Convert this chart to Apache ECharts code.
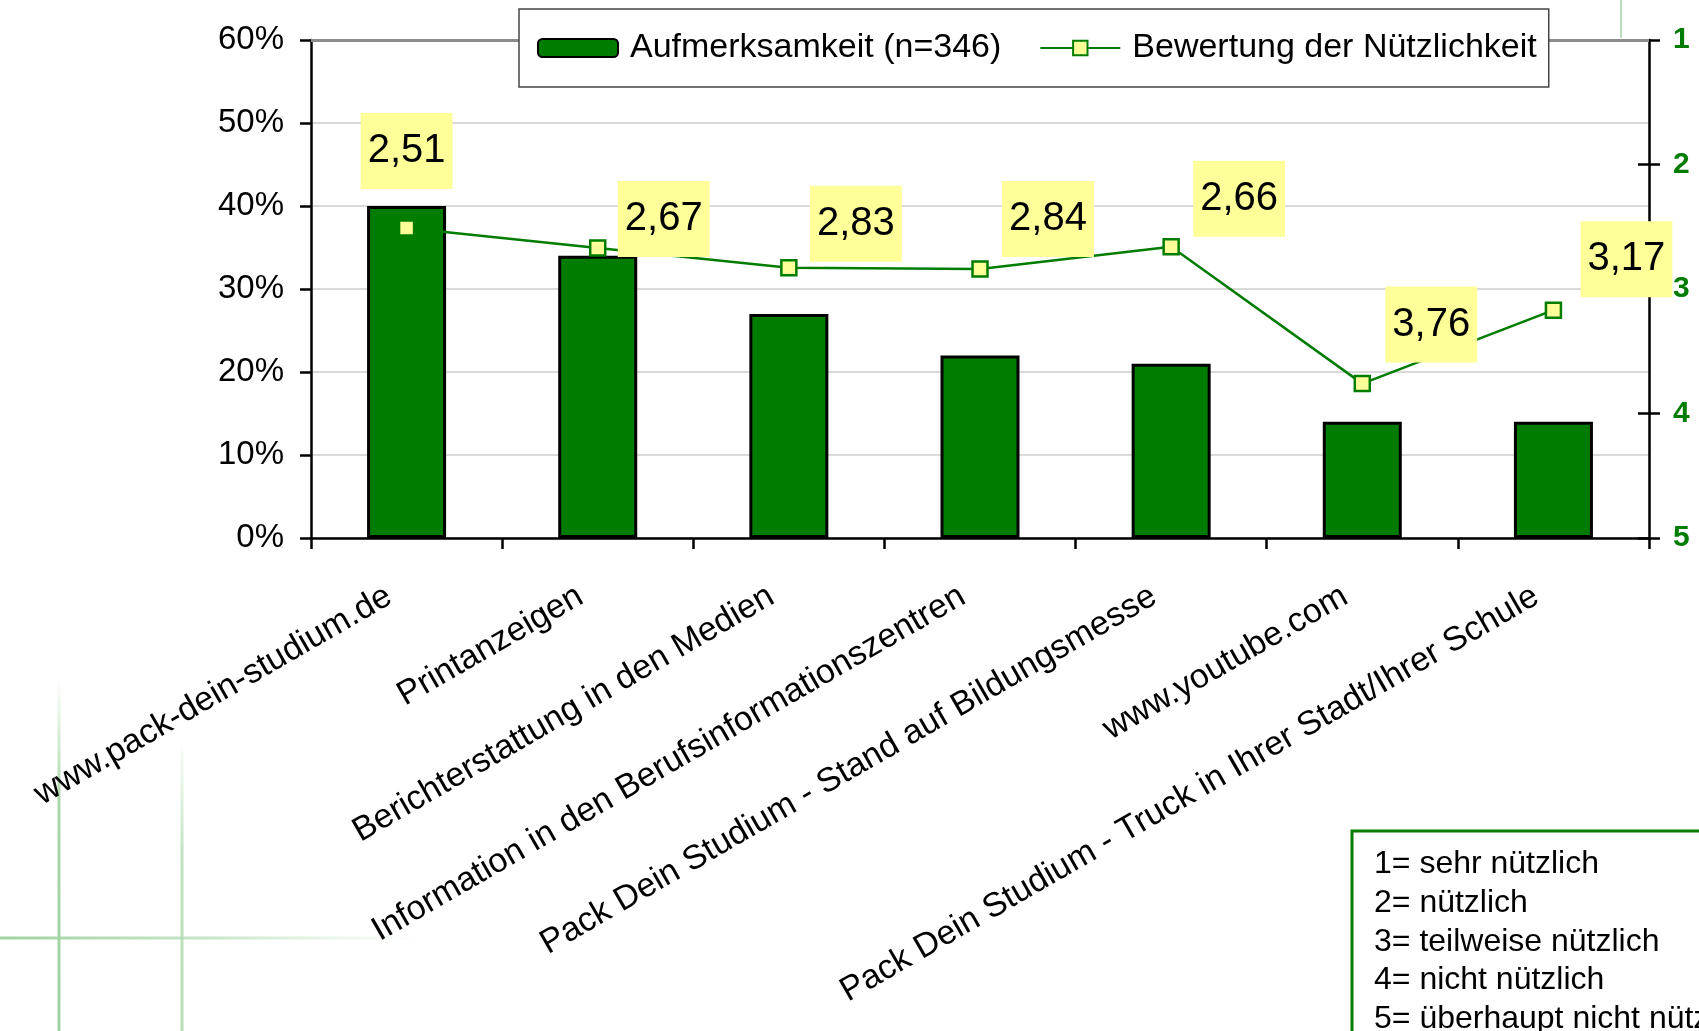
<!DOCTYPE html>
<html>
<head>
<meta charset="utf-8">
<script src="https://cdn.jsdelivr.net/npm/echarts@6/dist/echarts.min.js"></script>
<style>
  html, body { margin: 0; padding: 0; background: #fff; }
  #chart { width: 1699px; height: 1031px; }
</style>
</head>
<body>
<div id="chart"></div>
<script>
var categories = [
    'www.pack-dein-studium.de',
    'Printanzeigen',
    'Berichterstattung in den Medien',
    'Information in den Berufsinformationszentren',
    'Pack Dein Studium - Stand auf Bildungsmesse',
    'www.youtube.com',
    'Pack Dein Studium - Truck in Ihrer Stadt/Ihrer Schule'
];
// Aufmerksamkeit in %
var attention = [40, 34, 27, 22, 21, 14, 14];
// Bewertung (1 = sehr nützlich ... 5 = überhaupt nicht nützlich)
var usefulness = [2.51, 2.67, 2.83, 2.84, 2.66, 3.76, 3.17];
var scaleNotes = [
    '1= sehr nützlich',
    '2= nützlich',
    '3= teilweise nützlich',
    '4= nicht nützlich',
    '5= überhaupt nicht nützlich'
];

// where the yellow value boxes sit relative to their markers
var labelShift = [[0, -77], [66, -29], [67, -44], [68, -50], [68, -48], [69, -59], [73, -51]];

var FONT = '"Liberation Sans", Arial, sans-serif';
var GREEN = '#007d00';

var chart = echarts.init(document.getElementById('chart'));

var lineData = usefulness.map(function (v, i) {
    return { value: v, label: { offset: labelShift[i] } };
});

var option = {
    backgroundColor: '#fff',
    animation: false,
    textStyle: { fontFamily: FONT },
    grid: { left: 311, right: 50, top: 40, bottom: 493 },
    legend: {
        z: 20,
        left: 519,
        top: 9,
        padding: [22, 12, 22, 18],
        itemGap: 38,
        itemWidth: 80,
        itemHeight: 18,
        backgroundColor: '#fff',
        borderColor: '#444',
        borderWidth: 1.5,
        borderRadius: 0,
        textStyle: { fontFamily: FONT, fontSize: 34, color: '#000', padding: [0, 0, 0, 7] },
        data: ['Aufmerksamkeit (n=346)', 'Bewertung der Nützlichkeit']
    },
    xAxis: {
        type: 'category',
        data: categories,
        axisLine: { lineStyle: { color: '#000', width: 2.5 } },
        axisTick: { show: true, length: 11, lineStyle: { color: '#000', width: 2.5 } },
        axisLabel: {
            interval: 0,
            rotate: 30,
            margin: 46,
            padding: [0, 20, 0, 0],
            fontFamily: FONT,
            fontSize: 34,
            color: '#000'
        }
    },
    yAxis: [{
        type: 'value',
        min: 0,
        max: 60,
        interval: 10,
        position: 'left',
        axisLine: { show: true, lineStyle: { color: '#000', width: 2.5 } },
        axisTick: { show: true, length: 11, lineStyle: { color: '#000', width: 2.5 } },
        axisLabel: { formatter: '{value}%', margin: 27, fontFamily: FONT, fontSize: 33, color: '#000' },
        splitLine: { lineStyle: { color: '#cccccc', width: 1.5 } }
    }, {
        type: 'value',
        min: 1,
        max: 5,
        interval: 1,
        inverse: true,
        position: 'right',
        axisLine: { show: true, lineStyle: { color: '#000', width: 2.5 } },
        axisTick: { show: true, length: 11, lineStyle: { color: '#000', width: 2.5 } },
        axisLabel: { margin: 24, fontFamily: FONT, fontSize: 30, fontWeight: 'bold', color: GREEN },
        splitLine: { show: false }
    }, {
        // inner half of the crossing ticks on the right axis
        type: 'value',
        min: 1,
        max: 5,
        interval: 1,
        inverse: true,
        position: 'right',
        axisLine: { show: false },
        axisTick: { show: true, inside: true, length: 11, lineStyle: { color: '#000', width: 2.5 } },
        axisLabel: { show: false },
        splitLine: { show: false }
    }],
    series: [{
        name: 'Aufmerksamkeit (n=346)',
        type: 'bar',
        data: attention,
        yAxisIndex: 0,
        barWidth: 79,
        itemStyle: { color: GREEN, borderColor: '#000', borderWidth: 3 },
        markLine: {
            silent: true,
            symbol: 'none',
            label: { show: false },
            lineStyle: { color: '#8c8c8c', width: 3, type: 'solid' },
            data: [{ yAxis: 60 }]
        }
    }, {
        name: 'Bewertung der Nützlichkeit',
        type: 'line',
        data: lineData,
        yAxisIndex: 1,
        symbol: 'rect',
        symbolSize: 15,
        lineStyle: { color: GREEN, width: 2.5 },
        itemStyle: { color: '#ffff99', borderColor: GREEN, borderWidth: 2.5 },
        label: {
            show: true,
            position: 'inside',
            formatter: function (p) { return p.value.toFixed(2).replace('.', ','); },
            fontFamily: FONT,
            fontSize: 40,
            lineHeight: 44,
            color: '#000',
            backgroundColor: '#ffff99',
            padding: [16, 7, 16, 7]
        },
        z: 5
    }],
    graphic: [{
        type: 'line',
        z: -10,
        shape: { x1: 59, y1: 680, x2: 59, y2: 1031 },
        style: {
            lineWidth: 3,
            stroke: new echarts.graphic.LinearGradient(0, 0, 0, 1, [
                { offset: 0, color: 'rgba(160,210,160,0)' },
                { offset: 0.35, color: 'rgba(160,210,160,0.9)' },
                { offset: 1, color: 'rgba(160,210,160,1)' }
            ])
        }
    }, {
        type: 'line',
        z: -10,
        shape: { x1: 182, y1: 740, x2: 182, y2: 1031 },
        style: {
            lineWidth: 3,
            stroke: new echarts.graphic.LinearGradient(0, 0, 0, 1, [
                { offset: 0, color: 'rgba(175,218,175,0)' },
                { offset: 0.4, color: 'rgba(175,218,175,0.8)' },
                { offset: 1, color: 'rgba(175,218,175,0.9)' }
            ])
        }
    }, {
        type: 'line',
        z: -10,
        shape: { x1: 0, y1: 938, x2: 420, y2: 938 },
        style: {
            lineWidth: 3,
            stroke: new echarts.graphic.LinearGradient(0, 0, 1, 0, [
                { offset: 0, color: 'rgba(160,210,160,1)' },
                { offset: 0.5, color: 'rgba(175,218,175,0.7)' },
                { offset: 1, color: 'rgba(190,225,190,0)' }
            ])
        }
    }, {
        type: 'line',
        z: -10,
        shape: { x1: 1621, y1: 0, x2: 1621, y2: 38 },
        style: { lineWidth: 2, stroke: 'rgba(170,215,170,0.8)' }
    }, {
        type: 'rect',
        z: 10,
        shape: { x: 1352, y: 831, width: 400, height: 260 },
        style: { fill: '#fff', stroke: GREEN, lineWidth: 3 }
    }, {
        type: 'text',
        z: 11,
        left: 1374,
        top: 845,
        style: {
            text: scaleNotes.join('\n'),
            fontSize: 32,
            fontFamily: FONT,
            lineHeight: 38.7,
            fill: '#000'
        }
    }]
};

chart.setOption(option);
</script>
</body>
</html>
